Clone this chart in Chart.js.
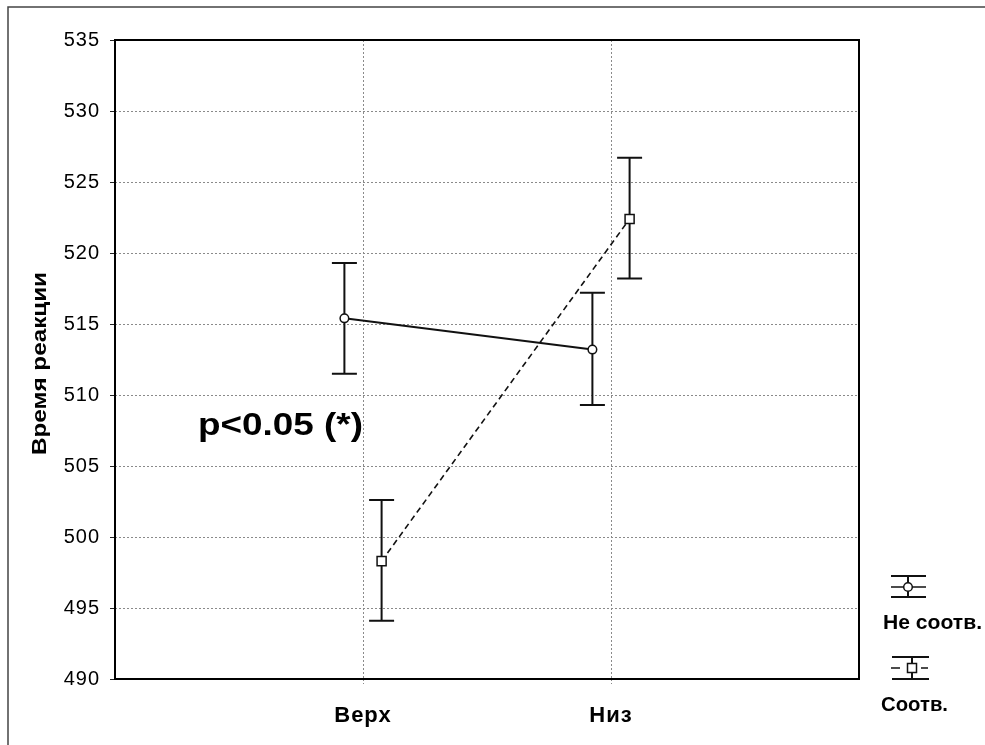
<!DOCTYPE html>
<html>
<head>
<meta charset="utf-8">
<script src="https://cdn.jsdelivr.net/npm/chart.js@4"></script>
<style>
  html, body { margin: 0; padding: 0; background: #fff; }
  #wrap { width: 985px; height: 745px; position: relative; }
</style>
</head>
<body>
<div id="wrap"><canvas id="c" width="985" height="745"></canvas></div>
<script>
// ---- data ----
const categories = ['Верх', 'Низ'];
const seriesNames = ['Не соотв.', 'Соотв.'];
const neSootvMean  = [515.4, 513.2];
const neSootvLower = [511.5, 509.3];
const neSootvUpper = [519.3, 517.2];
const sootvMean  = [498.3, 522.4];
const sootvLower = [494.1, 518.2];
const sootvUpper = [502.6, 526.7];
const yMin = 490, yMax = 535, yStep = 5;
const yAxisTitle = 'Время реакции';
const annotationText = 'p<0.05 (*)';

// ---- helpers ----
const OFFSET = 0.075;
function pts(means, off) {
  return means.map((v, i) => ({ x: i + 1 + off, y: v }));
}
const seriesDefs = [
  { mean: neSootvMean, lo: neSootvLower, hi: neSootvUpper, off: -OFFSET },
  { mean: sootvMean, lo: sootvLower, hi: sootvUpper, off: OFFSET }
];

function fitText(ctx, text, size, x, baseline, targetW, rotate) {
  ctx.save();
  ctx.letterSpacing = '0px';
  ctx.font = 'bold ' + size + 'px "Liberation Sans", Arial, sans-serif';
  ctx.fillStyle = '#000';
  ctx.textBaseline = 'alphabetic';
  ctx.textAlign = 'left';
  const w = ctx.measureText(text).width;
  ctx.translate(x, baseline);
  if (rotate) ctx.rotate(-Math.PI / 2);
  ctx.scale(targetW / w, 1);
  ctx.fillText(text, 0, 0);
  ctx.restore();
}

const decorPlugin = {
  id: 'decor',
  beforeDraw(chart) {
    const ctx = chart.ctx;
    ctx.save();
    ctx.fillStyle = '#fff';
    ctx.fillRect(0, 0, chart.width, chart.height);
    // outer frame (top + left)
    ctx.strokeStyle = '#444';
    ctx.lineWidth = 1.5;
    ctx.beginPath();
    ctx.moveTo(8, chart.height);
    ctx.lineTo(8, 7);
    ctx.lineTo(chart.width, 7);
    ctx.stroke();
    ctx.restore();
    ctx.letterSpacing = '1px';
  },
  beforeDatasetsDraw(chart) {
    const ctx = chart.ctx;
    ctx.letterSpacing = '0px';
    const a = chart.chartArea;
    // plot box
    ctx.save();
    ctx.strokeStyle = '#000';
    ctx.lineWidth = 2;
    ctx.strokeRect(a.left, a.top, a.right - a.left, a.bottom - a.top);
    ctx.restore();
    // error bars
    const xs = chart.scales.x, ys = chart.scales.y;
    ctx.save();
    ctx.strokeStyle = '#111';
    ctx.lineWidth = 2;
    const cap = 12.5;
    seriesDefs.forEach(s => {
      s.mean.forEach((m, i) => {
        const px = xs.getPixelForValue(i + 1 + s.off);
        const yl = ys.getPixelForValue(s.lo[i]);
        const yh = ys.getPixelForValue(s.hi[i]);
        ctx.beginPath();
        ctx.moveTo(px, yl); ctx.lineTo(px, yh);
        ctx.moveTo(px - cap, yl); ctx.lineTo(px + cap, yl);
        ctx.moveTo(px - cap, yh); ctx.lineTo(px + cap, yh);
        ctx.stroke();
      });
    });
    ctx.restore();
  },
  afterDraw(chart) {
    const ctx = chart.ctx;
    // y axis title (rotated)
    fitText(ctx, yAxisTitle, 21, 46, 455, 183, true);
    // annotation
    fitText(ctx, annotationText, 31, 198, 435, 165, false);
    // legend
    ctx.save();
    ctx.strokeStyle = '#111';
    ctx.lineWidth = 2;
    // item 1
    let cx = 908, y0 = 576, y1 = 587, y2 = 597;
    ctx.beginPath();
    ctx.moveTo(891, y0); ctx.lineTo(926, y0);
    ctx.moveTo(891, y2); ctx.lineTo(926, y2);
    ctx.moveTo(cx, y0); ctx.lineTo(cx, y2);
    ctx.stroke();
    ctx.lineWidth = 1.5;
    ctx.beginPath();
    ctx.moveTo(891, y1); ctx.lineTo(926, y1);
    ctx.stroke();
    ctx.beginPath();
    ctx.fillStyle = '#fff';
    ctx.arc(cx, y1, 4.3, 0, Math.PI * 2);
    ctx.fill(); ctx.stroke();
    // item 2
    cx = 912; y0 = 657; y1 = 668; y2 = 679;
    ctx.lineWidth = 2;
    ctx.beginPath();
    ctx.moveTo(892, y0); ctx.lineTo(929, y0);
    ctx.moveTo(892, y2); ctx.lineTo(929, y2);
    ctx.moveTo(cx, y0); ctx.lineTo(cx, y2);
    ctx.stroke();
    ctx.lineWidth = 1.5;
    ctx.beginPath();
    ctx.moveTo(891, y1); ctx.lineTo(900, y1);
    ctx.moveTo(921, y1); ctx.lineTo(928, y1);
    ctx.stroke();
    ctx.fillStyle = '#fff';
    ctx.fillRect(cx - 4.5, y1 - 4.5, 9, 9);
    ctx.strokeRect(cx - 4.5, y1 - 4.5, 9, 9);
    ctx.restore();
    fitText(ctx, seriesNames[0], 21, 883, 629, 99, false);
    fitText(ctx, seriesNames[1], 21, 881, 711, 67, false);
  }
};

new Chart(document.getElementById('c'), {
  type: 'line',
  data: {
    datasets: [
      {
        label: seriesNames[0],
        data: pts(neSootvMean, seriesDefs[0].off),
        borderColor: '#111',
        borderWidth: 2,
        pointStyle: 'circle',
        pointRadius: 4.3,
        pointBorderWidth: 1.5,
        pointBackgroundColor: '#fff',
        pointBorderColor: '#111',
        tension: 0
      },
      {
        label: seriesNames[1],
        data: pts(sootvMean, seriesDefs[1].off),
        borderColor: '#111',
        borderWidth: 1.6,
        borderDash: [6, 4],
        pointStyle: 'rect',
        pointRadius: 6.4,
        pointBorderWidth: 1.5,
        pointBackgroundColor: '#fff',
        pointBorderColor: '#111',
        tension: 0
      }
    ]
  },
  options: {
    responsive: false,
    animation: false,
    events: [],
    layout: { padding: { top: 40, right: 126, left: 0, bottom: 0 } },
    plugins: { legend: { display: false }, tooltip: { enabled: false } },
    scales: {
      x: {
        type: 'linear',
        min: 0,
        max: categories.length + 1,
        afterBuildTicks: s => { s.ticks = categories.map((c, i) => ({ value: i + 1 })); },
        afterFit: s => { s.height = 66; },
        border: { display: false, dash: [2, 2] },
        grid: {
          color: '#8a8a8a',
          lineWidth: 1,
          drawTicks: true,
          tickLength: 5,
          tickColor: '#8a8a8a',
          tickBorderDash: [2, 2]
        },
        ticks: {
          autoSkip: false,
          maxRotation: 0,
          padding: 19,
          color: '#000',
          font: { family: '"Liberation Sans", Arial, sans-serif', size: 22, weight: 'bold' },
          callback: v => categories[Math.round(v) - 1] || ''
        }
      },
      y: {
        min: yMin,
        max: yMax,
        afterFit: s => { s.width = 115; },
        border: { display: false, dash: [2, 2] },
        grid: {
          color: ctx => (ctx.tick && (ctx.tick.value === yMin || ctx.tick.value === yMax)) ? 'rgba(0,0,0,0)' : '#8a8a8a',
          lineWidth: 1,
          drawTicks: true,
          tickLength: 5,
          tickColor: '#222',
          tickBorderDash: []
        },
        ticks: {
          stepSize: yStep,
          padding: 10,
          color: '#000',
          font: { family: '"Liberation Sans", Arial, sans-serif', size: 20 }
        }
      }
    }
  },
  plugins: [decorPlugin]
});
</script>
</body>
</html>
